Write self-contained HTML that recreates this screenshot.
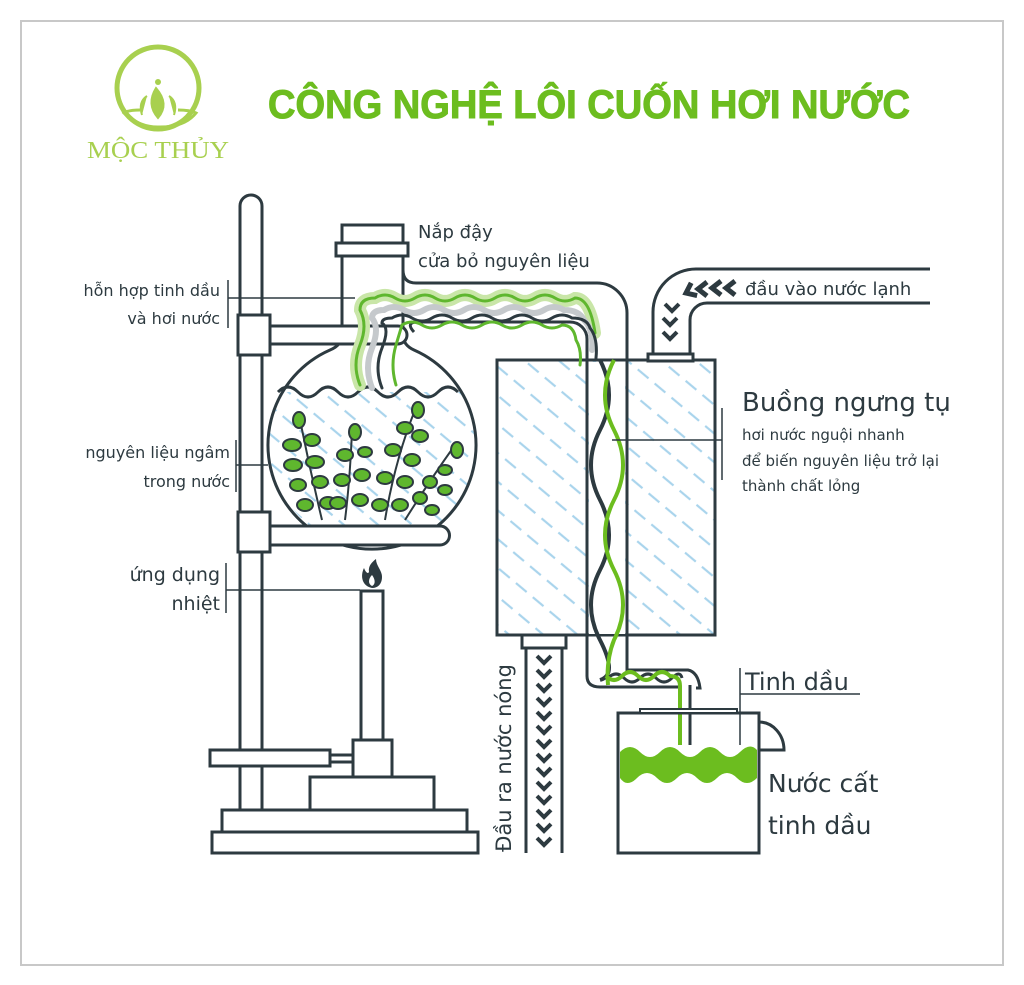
<!DOCTYPE html>
<html><head><meta charset="utf-8"><style>
html,body{margin:0;padding:0;background:#fff;}
svg{display:block;}
text{font-family:"DejaVu Sans","Liberation Sans",sans-serif;fill:#2d3a40;}
</style></head><body>
<svg width="1024" height="985" viewBox="0 0 1024 985" xmlns="http://www.w3.org/2000/svg">
<defs>
<pattern id="hatch" width="22" height="22" patternUnits="userSpaceOnUse" patternTransform="rotate(40)">
<line x1="0" y1="5" x2="14" y2="5" stroke="#a9d4ec" stroke-width="2.2"/>
</pattern>
<clipPath id="flaskc"><circle cx="373" cy="443" r="104"/></clipPath>
<g id="chev"><path d="M9,-7 L0,0 L9,7" fill="none" stroke="#2d3a40" stroke-width="5"/></g>
<g id="chevd"><path d="M-7,-4 L0,3 L7,-4" fill="none" stroke="#2d3a40" stroke-width="4"/></g>
</defs>
<rect x="0" y="0" width="1024" height="985" fill="#fff"/>
<rect x="21" y="21" width="982" height="944" fill="none" stroke="#c8c8c8" stroke-width="2"/>

<!-- logo -->
<circle cx="158" cy="88" r="41" fill="none" stroke="#a8d04f" stroke-width="5"/>
<path d="M140,110 Q128,110 124,113 Q140,128 160,127 Q185,127 196,113 Q190,110 178,110" fill="none" stroke="#a8d04f" stroke-width="3"/>
<path d="M158,118 Q146,104 156,88 Q170,104 158,118Z M142,115 Q138,102 147,96 M174,115 Q178,102 169,96" fill="#a8d04f" stroke="#a8d04f" stroke-width="2"/>
<circle cx="158" cy="82" r="3" fill="#a8d04f"/>
<text x="158" y="158" text-anchor="middle" style="font-family:'Liberation Serif',serif;fill:#a8d04f" font-size="24" textLength="142" lengthAdjust="spacingAndGlyphs">MỘC THỦY</text>

<!-- title -->
<text x="268" y="118" style="font-family:'Liberation Sans',sans-serif;fill:#6cbd1f;font-weight:bold" font-size="40" stroke="#6cbd1f" stroke-width="1" textLength="642" lengthAdjust="spacingAndGlyphs">CÔNG NGHỆ LÔI CUỐN HƠI NƯỚC</text>

<g fill="none" stroke="#2d3a40" stroke-width="3">
<path d="M240,810 V206 A11,11 0 0 1 262,206 V810"/>
<rect x="222" y="810" width="245" height="22" fill="#fff"/>
<rect x="212" y="832" width="266" height="21" fill="#fff"/>
<rect x="310" y="777" width="124" height="33" fill="#fff"/>
<rect x="210" y="750" width="120" height="16" fill="#fff"/>
<rect x="330" y="755" width="23" height="7" fill="#fff"/>
<rect x="353" y="740" width="39" height="37" fill="#fff"/>
<rect x="361" y="591" width="22" height="149" fill="#fff"/>
</g>
<path d="M372,588 C362,586 360,576 364,568 C366,573 368,574 369,572 C368,566 372,562 376,559 C376,566 382,570 382,577 C382,584 378,588 372,588Z" fill="#2d3a40"/>
<path d="M372,586 C368,584 368,579 372,575 C375,579 376,584 372,586Z" fill="#fff"/>

<!-- flask -->
<g clip-path="url(#flaskc)">
<rect x="260" y="392" width="230" height="160" fill="url(#hatch)"/>
</g>
<path d="M278,392 q10,-10 20,0 t20,0 t20,0 t20,0 t20,0 t20,0 t20,0 t20,0 t20,0" fill="none" stroke="#2d3a40" stroke-width="3"/>
<path d="M342,255 V335 Q342,345 330,350 A104,104 0 1 0 414,350 Q403,345 403,335 V255" fill="none" stroke="#2d3a40" stroke-width="3"/>
<rect x="342" y="225" width="61" height="18" fill="#fff" stroke="#2d3a40" stroke-width="3"/>
<rect x="336" y="243" width="72" height="13" fill="#fff" stroke="#2d3a40" stroke-width="3"/>

<!-- plants -->
<g stroke="#2d3a40" stroke-width="2" fill="#5fb72e">
<path d="M300,420 Q310,470 322,520" fill="none"/>
<path d="M352,430 Q350,480 345,520" fill="none"/>
<path d="M415,410 Q395,460 385,520" fill="none"/>
<path d="M455,445 Q430,480 405,520" fill="none"/>
<ellipse cx="299" cy="420" rx="6" ry="8"/><ellipse cx="292" cy="445" rx="9" ry="6"/><ellipse cx="312" cy="440" rx="8" ry="6"/>
<ellipse cx="293" cy="465" rx="9" ry="6"/><ellipse cx="315" cy="462" rx="9" ry="6"/><ellipse cx="298" cy="485" rx="8" ry="6"/><ellipse cx="320" cy="482" rx="8" ry="6"/><ellipse cx="305" cy="505" rx="8" ry="6"/><ellipse cx="328" cy="503" rx="8" ry="6"/>
<ellipse cx="355" cy="432" rx="6" ry="8"/><ellipse cx="345" cy="455" rx="8" ry="6"/><ellipse cx="365" cy="452" rx="7" ry="5"/><ellipse cx="342" cy="480" rx="8" ry="6"/><ellipse cx="362" cy="475" rx="8" ry="6"/><ellipse cx="338" cy="503" rx="8" ry="6"/><ellipse cx="360" cy="500" rx="8" ry="6"/>
<ellipse cx="418" cy="410" rx="6" ry="8"/><ellipse cx="405" cy="428" rx="8" ry="6"/><ellipse cx="420" cy="436" rx="8" ry="6"/><ellipse cx="393" cy="450" rx="8" ry="6"/><ellipse cx="412" cy="460" rx="8" ry="6"/><ellipse cx="385" cy="478" rx="8" ry="6"/><ellipse cx="405" cy="482" rx="8" ry="6"/><ellipse cx="380" cy="505" rx="8" ry="6"/><ellipse cx="400" cy="505" rx="8" ry="6"/>
<ellipse cx="457" cy="450" rx="6" ry="8"/><ellipse cx="445" cy="470" rx="7" ry="5"/><ellipse cx="430" cy="482" rx="7" ry="6"/><ellipse cx="445" cy="490" rx="7" ry="5"/><ellipse cx="420" cy="498" rx="7" ry="6"/><ellipse cx="432" cy="510" rx="7" ry="5"/>
</g>

<g fill="#fff" stroke="#2d3a40" stroke-width="3">
<path d="M270,326 H398 A9,9 0 0 1 398,344 H270Z"/>
<path d="M270,526 H440 A9,9 0 0 1 440,545 H270Z"/>
<rect x="238" y="315" width="32" height="40"/>
<rect x="238" y="512" width="32" height="40"/>
</g>

<!-- condenser -->
<rect x="497" y="360" width="218" height="275" fill="url(#hatch)" stroke="#2d3a40" stroke-width="3"/>
<rect x="648" y="354" width="45" height="7" fill="#fff" stroke="#2d3a40" stroke-width="3"/>
<path d="M653,354 V312 A43,43 0 0 1 696,269 H930 M690,354 V320 A17,17 0 0 1 707,303 H930" fill="none" stroke="#2d3a40" stroke-width="3"/>
<g>
<use href="#chev" x="726" y="288"/><use href="#chev" x="712" y="288"/><use href="#chev" x="698" y="289"/>
<use href="#chev" x="686" y="293" transform="rotate(-25 686 293)"/>
<use href="#chevd" x="672" y="308"/><use href="#chevd" x="670" y="322"/><use href="#chevd" x="670" y="336"/>
</g>
<rect x="522" y="635" width="44" height="13" fill="#fff" stroke="#2d3a40" stroke-width="3"/>
<path d="M526,648 V853 M562,648 V853" stroke="#2d3a40" stroke-width="3"/>
<g>
<use href="#chevd" x="544" y="660"/><use href="#chevd" x="544" y="674"/><use href="#chevd" x="544" y="688"/><use href="#chevd" x="544" y="702"/><use href="#chevd" x="544" y="716"/><use href="#chevd" x="544" y="730"/><use href="#chevd" x="544" y="744"/><use href="#chevd" x="544" y="758"/><use href="#chevd" x="544" y="772"/><use href="#chevd" x="544" y="786"/><use href="#chevd" x="544" y="800"/><use href="#chevd" x="544" y="814"/><use href="#chevd" x="544" y="828"/><use href="#chevd" x="544" y="842"/>
</g>

<!-- main tube -->
<path d="M403,270 Q403,283 416,283 H597 A30,30 0 0 1 627,313 V670" fill="none" stroke="#2d3a40" stroke-width="3"/>
<path d="M414,332 Q405,322 418,322 H570 A17,17 0 0 1 587,339 V670" fill="none" stroke="#2d3a40" stroke-width="3"/>
<rect x="589" y="362" width="36" height="272" fill="#fff"/>
<path d="M587,360 V670 M627,360 V672" stroke="#2d3a40" stroke-width="3"/>
<g fill="none" stroke-linecap="round">
<path d="M360,385 q-8,-20 0,-40 t0,-35 q0,-12 15,-12 q10,-6 20,0 t20,0 t20,0 t20,0 t20,0 t20,0 t20,0 t20,0 t20,0 t20,0 q15,0 20,35" stroke="#c9e6a8" stroke-width="12"/>
<path d="M360,385 q-8,-20 0,-40 t0,-35 q0,-12 15,-12 q10,-6 20,0 t20,0 t20,0 t20,0 t20,0 t20,0 t20,0 t20,0 t20,0 t20,0 q15,0 20,35" stroke="#5fb72e" stroke-width="3"/>
<path d="M372,388 q-8,-20 0,-40 t0,-30 q0,-8 12,-8 q10,-6 20,0 t20,0 t20,0 t20,0 t20,0 t20,0 t20,0 t20,0 t20,0 q15,0 20,10 q10,10 8,30" stroke="#c5c9cc" stroke-width="6"/>
<path d="M382,388 q-8,-20 0,-40 t0,-25 q0,-5 10,-5 q10,-6 20,0 t20,0 t20,0 t20,0 t20,0 t20,0 t20,0 t20,0 t20,0 q15,0 18,10 q8,10 6,30" stroke="#2d3a40" stroke-width="3"/>
<path d="M396,385 q-6,-20 0,-40 t6,-20 q10,-6 20,0 t20,0 t20,0 t20,0 t20,0 t20,0 t20,0 t20,0 q12,0 14,15 q6,10 4,25" stroke="#5fb72e" stroke-width="3"/>
</g>
<!-- helix -->
<path d="M600,360 q18,35 0,70 t0,70 t0,70 t0,70 t0,40" fill="none" stroke="#2d3a40" stroke-width="4"/>
<path d="M614,360 q-18,35 0,70 t0,70 t0,70 t0,70 q-8,20 -6,45" fill="none" stroke="#6cbd1f" stroke-width="4"/>

<!-- condensate pipe -->
<path d="M587,668 V676 Q587,687 600,687 H680 V745 M627,670 H688 Q698,672 700,688 L696,688" fill="none" stroke="#2d3a40" stroke-width="3"/>
<path d="M608,678 q8,-8 16,0 t16,0 t16,0 t16,0 t10,0" fill="none" stroke="#2d3a40" stroke-width="3"/>
<path d="M606,676 q8,8 16,0 t16,0 t16,0 t16,0 q10,0 10,10 V745" fill="none" stroke="#6cbd1f" stroke-width="4"/>
<path d="M690,685 V745" stroke="#2d3a40" stroke-width="3"/>

<!-- vessel -->
<path d="M620,752 q10,-10 20,0 t20,0 t20,0 t20,0 t20,0 t20,0 t17,-2 V778 q-10,10 -20,0 t-20,0 t-20,0 t-20,0 t-20,0 t-20,0 t-17,0Z" fill="#6cbd1f"/>
<rect x="618" y="713" width="141" height="140" fill="none" stroke="#2d3a40" stroke-width="3"/>
<rect x="640" y="709" width="97" height="4" fill="#fff" stroke="#2d3a40" stroke-width="2"/>
<path d="M759,722 A25,28 0 0 1 784,750 H759" fill="none" stroke="#2d3a40" stroke-width="3"/>

<g fill="none" stroke="#2d3a40" stroke-width="1.5">
<path d="M228,280 V328 M228,298 H355"/>
<path d="M236,440 V492 M236,465 H268"/>
<path d="M226,563 V613 M226,590 H360"/>
<path d="M722,408 V480 M722,440 H612"/>
<path d="M740,668 V745 M740,694 H860"/>
</g>

<g font-size="16">
<text x="220" y="296" text-anchor="end">hỗn hợp tinh dầu</text>
<text x="220" y="324" text-anchor="end">và hơi nước</text>
<text x="230" y="458" text-anchor="end">nguyên liệu ngâm</text>
<text x="230" y="487" text-anchor="end">trong nước</text>
<text x="418" y="238" font-size="18">Nắp đậy</text>
<text x="418" y="267" font-size="18">cửa bỏ nguyên liệu</text>
<text x="745" y="295" font-size="18">đầu vào nước lạnh</text>
<text x="742" y="440" font-size="15">hơi nước nguội nhanh</text>
<text x="742" y="466" font-size="15">để biến nguyên liệu trở lại</text>
<text x="742" y="491" font-size="15">thành chất lỏng</text>
</g>
<text x="220" y="581" text-anchor="end" font-size="19">ứng dụng</text>
<text x="220" y="610" text-anchor="end" font-size="19">nhiệt</text>
<text x="742" y="411" font-size="26">Buồng ngưng tụ</text>
<text x="745" y="690" font-size="24">Tinh dầu</text>
<text x="768" y="792" font-size="25">Nước cất</text>
<text x="768" y="834" font-size="25">tinh dầu</text>
<text transform="translate(511,758) rotate(-90)" text-anchor="middle" font-size="21">Đầu ra nước nóng</text>
</svg>
</body></html>
